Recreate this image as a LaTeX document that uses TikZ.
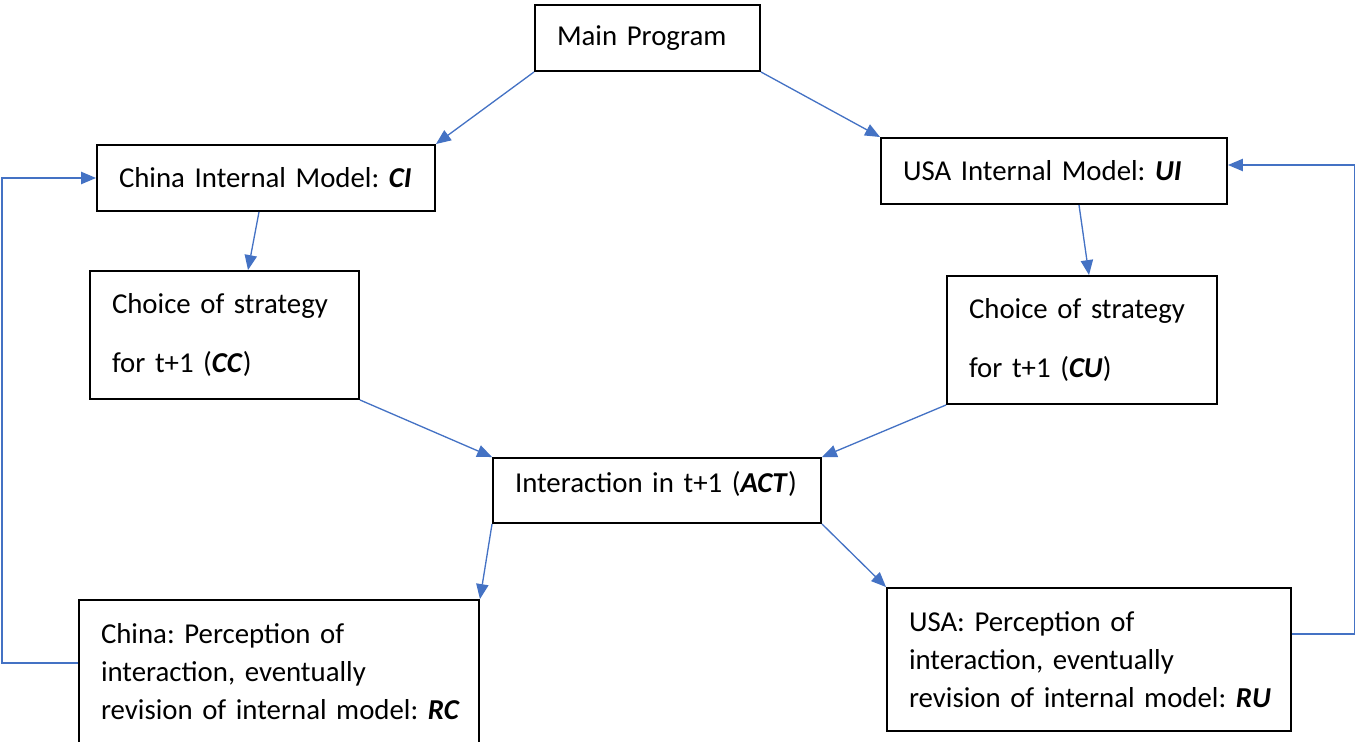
\documentclass[tikz,border=0pt]{standalone}
\usepackage{fontspec}
\setmainfont{Carlito}
\usetikzlibrary{arrows.meta}
\definecolor{officeblue}{HTML}{4472C4}

\begin{document}
\begin{tikzpicture}[
    blk/.style={draw, line width=1.1pt, inner xsep=0.44cm, inner ysep=0pt, align=left,
        font=\fontsize{16.4pt}{21.8pt}\selectfont\frenchspacing},
    flow/.style={draw=officeblue, line width=0.75pt, -{Triangle[length=8.5pt,width=7pt]}},
    ]
    \useasboundingbox (0,0) rectangle (27.1,-14.84);
    \node[blk, text width=3.62cm, minimum height=1.32cm](main) at (12.95,-0.76){Main Program};
    \node[blk, text width=5.88cm, minimum height=1.32cm](ci) at (5.32,-3.56){\mbox{China Internal Model: \textbf{\textit{CI}}}};
    \node[blk, text width=6.04cm, minimum height=1.32cm](ui) at (21.08,-3.42){USA Internal Model: \textbf{\textit{UI}}};
    \node[blk, text width=4.50cm, minimum height=2.56cm](cc) at (4.49,-6.70){Choice of strategy\\[12.2pt]for t+1 (\textbf{\textit{CC}})};
    \node[blk, text width=4.52cm, minimum height=2.56cm](cu) at (21.64,-6.80){Choice of strategy\\[12.2pt]for t+1 (\textbf{\textit{CU}})};
    \node[blk, text width=5.68cm, minimum height=1.30cm, text depth=0.33cm](act) at (13.14,-9.81){Interaction in t+1 (\textbf{\textit{ACT}})};
    \node[blk, text width=7.12cm, minimum height=2.86cm](chperc) at (5.58,-13.43){China: Perception of\\interaction, eventually\\\mbox{revision of internal model: \textbf{\textit{RC}}}};
    \node[blk, text width=7.20cm, minimum height=2.86cm](usperc) at (21.78,-13.19){USA: Perception of\\interaction, eventually\\\mbox{revision of internal model: \textbf{\textit{RU}}}};
    \draw[flow](main.south west)--(ci.north east);
    \draw[flow](main.south east)--(ui.north west);
    \draw[flow]([xshift=-0.14cm]ci.south)--([xshift=0.47cm]cc.north);
    \draw[flow]([xshift=0.50cm]ui.south)--([xshift=0.14cm]cu.north);
    \draw[flow](cc.south east)--(act.north west);
    \draw[flow](cu.south west)--(act.north east);
    \draw[flow](act.south west)--(chperc.north east);
    \draw[flow](act.south east)--(usperc.north west);
    \draw[flow]([yshift=0.17cm]chperc.west)--++(-1.52,0)|-(ci.west);
    \draw[flow]([yshift=0.51cm]usperc.east)--++(1.26,0)|-([yshift=0.12cm]ui.east);
\end{tikzpicture}
\end{document}
